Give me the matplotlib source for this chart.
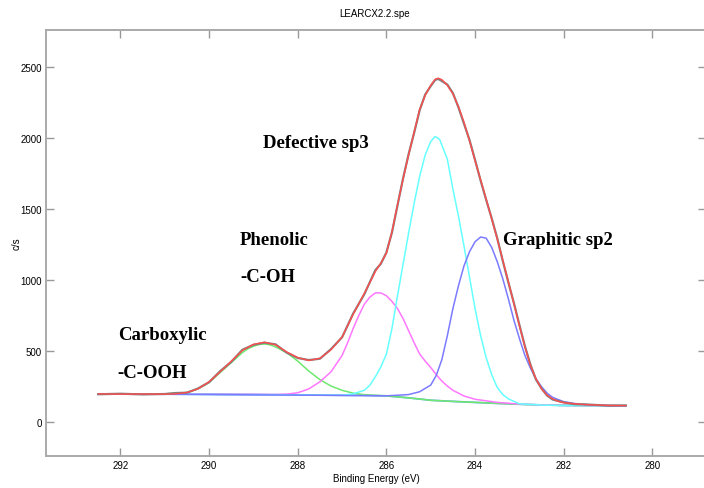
import matplotlib
matplotlib.use("Agg")
import matplotlib.pyplot as plt

#------------------------------------------- Data -------------------------------------#
# binding energy grids (eV) and counts (c/s)
env_be = [292.5, 292.0, 291.5, 291.0, 290.75, 290.5, 290.25, 290.0, 289.75, 289.5,
          289.25, 289.0, 288.75, 288.5, 288.25, 288.0, 287.75, 287.5, 287.25, 287.0,
          286.75, 286.5, 286.25, 286.125, 286.0, 285.875, 285.75, 285.625, 285.5, 285.375,
          285.25, 285.125, 285.0, 284.9, 284.83, 284.75, 284.625, 284.5, 284.375, 284.25,
          284.125, 284.0, 283.875, 283.75, 283.625, 283.5, 283.375, 283.25, 283.125, 283.0,
          282.875, 282.75, 282.625, 282.5, 282.375, 282.25, 282.125, 282.0, 281.75, 281.5,
          281.0, 280.6]
envelope = [200, 198, 199, 198, 200, 210, 235, 285, 355, 430,
            505, 548, 563, 545, 495, 455, 435, 450, 510, 600,
            760, 905, 1060, 1120, 1190, 1340, 1530, 1710, 1880, 2040,
            2200, 2300, 2370, 2412, 2420, 2410, 2370, 2310, 2220, 2110,
            1980, 1840, 1705, 1570, 1430, 1290, 1140, 990, 835, 680,
            530, 400, 305, 235, 190, 165, 148, 138, 130, 124,
            119, 117]
measured = [197, 201, 196, 199, 206, 208, 238, 282, 360, 425,
            510, 545, 560, 548, 490, 452, 438, 447, 515, 598,
            765, 900, 1070, 1115, 1195, 1335, 1525, 1715, 1885, 2035,
            2195, 2305, 2365, 2408, 2415, 2400, 2375, 2315, 2215, 2100,
            1985, 1845, 1700, 1565, 1435, 1295, 1135, 985, 840, 685,
            535, 405, 300, 238, 188, 160, 150, 140, 127, 126,
            117, 119]

bg_be = [292.5, 291.0, 290.0, 289.0, 288.0, 287.0, 286.5, 286.0, 285.5, 285.0,
         284.5, 284.0, 283.5, 283.0, 282.5, 282.0, 281.0, 280.6]
background = [200, 199, 198, 196, 193, 190, 189, 186, 172, 155,
              147, 140, 133, 127, 122, 119, 117, 116]

cooh_be = [292.5, 291.0, 290.5, 290.25, 290.0, 289.75, 289.5, 289.25, 289.125, 289.0,
           288.875, 288.75, 288.625, 288.5, 288.25, 288.0, 287.75, 287.5, 287.25, 287.0,
           286.75, 286.5, 286.0, 285.5, 285.0, 284.5, 284.0, 283.5, 283.0, 282.5,
           282.0, 281.0, 280.6]
carboxylic = [200, 200, 210, 235, 280, 350, 420, 490, 517, 535,
              547, 551, 545, 530, 490, 430, 360, 300, 255, 225,
              205, 194, 186, 172, 155, 147, 140, 133, 127, 122,
              119, 117, 116]

coh_be = [292.5, 289.0, 288.5, 288.25, 288.0, 287.75, 287.5, 287.25, 287.0, 286.875,
          286.75, 286.625, 286.5, 286.375, 286.25, 286.125, 286.0, 285.875, 285.75, 285.625,
          285.5, 285.375, 285.25, 285.125, 285.0, 284.875, 284.75, 284.625, 284.5, 284.25,
          284.0, 283.5, 283.0, 282.5, 282.0, 281.0, 280.6]
phenolic = [200, 196, 195, 198, 208, 235, 285, 355, 470, 560,
            660, 750, 830, 880, 910, 910, 890, 850, 800, 730,
            645, 560, 480, 430, 385, 335, 290, 255, 225, 185,
            162, 140, 128, 122, 119, 117, 116]

sp3_be = [292.5, 287.0, 286.75, 286.5, 286.375, 286.25, 286.125, 286.0, 285.875, 285.75,
          285.625, 285.5, 285.375, 285.25, 285.125, 285.0, 284.9, 284.8, 284.625, 284.5,
          284.375, 284.25, 284.125, 284.0, 283.875, 283.75, 283.625, 283.5, 283.375, 283.25,
          283.0, 282.5, 282.0, 281.0, 280.6]
defective_sp3 = [200, 190, 200, 225, 260, 320, 390, 480, 660, 890,
                 1110, 1330, 1540, 1730, 1880, 1975, 2010, 1990, 1850, 1640,
                 1450, 1240, 1020, 800, 610, 455, 335, 245, 195, 165,
                 130, 121, 118, 117, 116]

sp2_be = [292.5, 286.5, 286.0, 285.5, 285.25, 285.0, 284.875, 284.75, 284.625, 284.5,
          284.375, 284.25, 284.125, 284.0, 283.875, 283.75, 283.625, 283.5, 283.375, 283.25,
          283.125, 283.0, 282.875, 282.75, 282.625, 282.5, 282.375, 282.25, 282.0, 281.75,
          281.5, 281.0, 280.6]
graphitic_sp2 = [200, 188, 186, 195, 215, 262, 330, 440, 610, 800,
                 960, 1100, 1200, 1270, 1303, 1295, 1230, 1130, 1010, 870,
                 720, 590, 470, 380, 305, 250, 205, 175, 145, 132,
                 124, 118, 116]

x_ticks = [292, 290, 288, 286, 284, 282, 280]
y_ticks = [0, 500, 1000, 1500, 2000, 2500]

labels = [("Defective sp3", 288.79, 1971), ("Phenolic", 289.30, 1289),
          ("-C-OH", 289.30, 1022), ("Carboxylic", 292.06, 621),
          ("-C-OOH", 292.06, 347), ("Graphitic sp2", 283.37, 1289)]

#--------------------------------------------- Plot -----------------------------------#
plt.rcParams['font.family'] = ['Liberation Sans', 'DejaVu Sans']
fig = plt.figure(figsize=(7.04, 4.89), dpi=100)
ax = fig.add_axes([46/704, 32/489, 660/704, 426/489])

ax.plot(bg_be, background, color="#6aa6f0", lw=1.3)
ax.plot(cooh_be, carboxylic, color="#6ee86e", lw=1.1)
ax.plot(coh_be, phenolic, color="#ff77ff", lw=1.1)
ax.plot(sp3_be, defective_sp3, color="#66ffff", lw=1.1)
ax.plot(sp2_be, graphitic_sp2, color="#7b7bff", lw=1.1)
ax.plot(env_be, measured, color="#808080", lw=1.6)
ax.plot(env_be, envelope, color="#ff4d4d", lw=1.0)

for txt, xe, yv in labels:
    ax.text(xe, yv, txt, family=["Liberation Serif", "DejaVu Serif"], weight="bold",
            fontsize=13.5, ha="left", va="center")

ax.set_xlim(293.68, 278.79)
ax.set_ylim(-237, 2759)
ax.set_xticks(x_ticks)
ax.set_yticks(y_ticks)
ax.tick_params(direction="in", length=6, width=1, color="#999999", labelsize=7,
               top=True, right=True, pad=3)
for s in ax.spines.values():
    s.set_color("#aaaaaa")
    s.set_linewidth(1.4)

ax.set_xlabel("Binding Energy (eV)", fontsize=7, labelpad=2)
ax.set_ylabel("c/s", fontsize=7, labelpad=-1)
fig.text(375/704, 1 - 14/489, "LEARCX2.2.spe", fontsize=7, ha="center", va="center")

fig.savefig("out.png", dpi=100)
